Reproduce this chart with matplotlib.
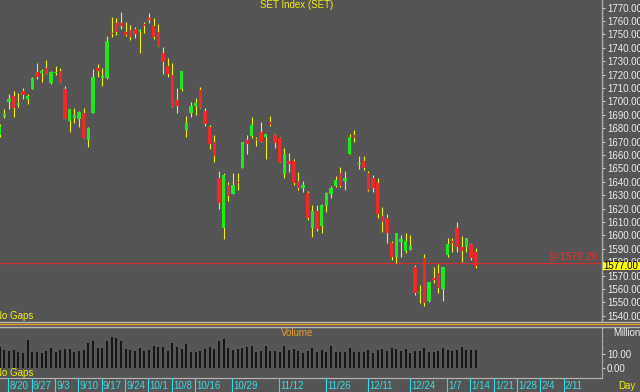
import matplotlib
matplotlib.use("Agg")
import numpy as np
import matplotlib.pyplot as plt
from matplotlib.lines import Line2D
from matplotlib.patches import Rectangle
from matplotlib.ticker import FormatStrFormatter, MultipleLocator

plt.rcParams['font.family'] = ['Liberation Sans', 'DejaVu Sans']

# daily SET index, 2018-08-16 .. 2019-01-16
opens = [1674.9, 1688.1, 1699.3, 1704.0, 1697.1, 1707.7, 1701.6, 1709.0, 1722.1, 1721.2,
         1724.7, 1713.5, 1720.9, 1722.7, 1709.0, 1685.6, 1687.8, 1686.9, 1691.6, 1671.2,
         1691.6, 1725.1, 1717.2, 1717.7, 1750.8, 1758.2, 1758.7, 1751.5, 1753.2, 1753.8,
         1752.3, 1757.9, 1762.4, 1756.4, 1752.0, 1735.9, 1726.4, 1719.7, 1701.0, 1709.0,
         1678.7, 1691.6, 1696.6, 1708.5, 1692.8, 1681.1, 1669.9, 1642.6, 1605.8, 1637.6,
         1630.9, 1639.7, 1650.5, 1671.2, 1674.4, 1671.9, 1676.9, 1673.7, 1684.8, 1674.9,
         1672.9, 1645.6, 1655.8, 1655.8, 1640.8, 1635.2, 1631.5, 1605.4, 1618.3, 1607.3,
         1622.0, 1630.7, 1636.9, 1646.8, 1640.8, 1660.8, 1674.9, 1653.3, 1655.8, 1646.8,
         1642.6, 1639.4, 1614.5, 1612.8, 1594.6, 1583.7, 1595.4, 1588.7, 1589.2, 1576.7,
         1557.3, 1583.4, 1551.4, 1568.1, 1572.2, 1559.9, 1585.4, 1595.4, 1605.8, 1591.2,
         1591.2, 1593.4, 1587.9]
highs = [1683.1, 1694.1, 1705.3, 1707.7, 1706.0, 1709.8, 1705.3, 1718.4, 1728.4, 1723.9,
         1730.9, 1722.7, 1726.4, 1724.7, 1711.5, 1694.5, 1694.8, 1692.8, 1695.3, 1681.1,
         1723.9, 1727.9, 1724.7, 1749.0, 1763.1, 1762.4, 1766.9, 1759.4, 1757.0, 1755.7,
         1753.8, 1759.4, 1765.7, 1762.0, 1757.7, 1740.8, 1732.6, 1728.4, 1709.8, 1722.7,
         1689.1, 1699.8, 1702.3, 1710.5, 1694.8, 1682.4, 1674.9, 1648.3, 1646.4, 1640.1,
         1646.4, 1646.8, 1669.9, 1674.9, 1688.6, 1673.7, 1684.8, 1675.7, 1689.1, 1675.4,
         1673.7, 1665.0, 1661.3, 1657.0, 1647.1, 1640.8, 1633.2, 1622.7, 1622.7, 1623.3,
         1632.6, 1637.1, 1644.6, 1650.8, 1648.3, 1675.5, 1678.7, 1659.3, 1659.5, 1648.3,
         1645.1, 1642.6, 1621.2, 1616.0, 1596.1, 1601.6, 1600.4, 1602.1, 1600.4, 1578.0,
         1563.1, 1586.2, 1565.6, 1576.3, 1578.7, 1576.8, 1597.9, 1597.9, 1610.3, 1599.6,
         1597.9, 1594.6, 1590.4]
lows = [1673.4, 1687.4, 1694.1, 1688.6, 1695.6, 1701.6, 1698.0, 1709.0, 1716.7, 1714.2,
        1720.4, 1713.0, 1719.7, 1714.2, 1686.6, 1676.9, 1684.1, 1681.1, 1672.5, 1666.2,
        1691.1, 1718.4, 1711.7, 1716.7, 1748.2, 1749.5, 1753.8, 1748.8, 1745.8, 1747.0,
        1735.9, 1751.2, 1758.7, 1746.3, 1741.5, 1720.4, 1718.4, 1696.0, 1691.1, 1708.0,
        1673.7, 1688.6, 1689.8, 1694.8, 1681.6, 1664.5, 1655.0, 1619.5, 1597.1, 1625.9,
        1630.9, 1633.9, 1650.1, 1660.5, 1672.5, 1666.9, 1669.5, 1657.0, 1681.6, 1665.0,
        1655.0, 1643.1, 1647.1, 1638.0, 1633.9, 1632.2, 1611.5, 1599.1, 1603.6, 1601.6,
        1617.7, 1627.7, 1636.4, 1635.9, 1633.9, 1660.5, 1669.5, 1649.6, 1648.8, 1633.2,
        1632.6, 1613.3, 1602.8, 1594.2, 1581.7, 1579.3, 1584.2, 1587.2, 1589.2, 1555.6,
        1549.9, 1547.4, 1550.6, 1564.3, 1557.3, 1551.4, 1583.7, 1587.9, 1587.9, 1580.5,
        1587.9, 1581.7, 1575.5]
closes = [1681.6, 1690.4, 1701.8, 1694.8, 1698.8, 1704.8, 1704.2, 1717.7, 1718.0, 1722.7,
          1720.4, 1721.9, 1721.9, 1714.2, 1686.6, 1694.5, 1689.8, 1691.9, 1672.5, 1679.9,
          1718.4, 1722.7, 1718.9, 1744.8, 1750.0, 1752.0, 1756.4, 1749.7, 1747.8, 1750.2,
          1753.2, 1756.4, 1760.7, 1747.8, 1741.5, 1729.6, 1720.4, 1696.0, 1696.8, 1722.7,
          1683.7, 1696.8, 1698.6, 1694.8, 1682.9, 1668.2, 1659.3, 1624.0, 1645.1, 1629.7,
          1637.6, 1638.9, 1669.9, 1668.0, 1682.4, 1671.0, 1669.5, 1675.7, 1682.4, 1668.7,
          1655.0, 1660.5, 1653.1, 1639.4, 1635.6, 1637.6, 1612.8, 1618.3, 1604.8, 1622.7,
          1631.5, 1635.2, 1641.4, 1636.9, 1642.6, 1673.2, 1672.5, 1654.3, 1650.1, 1633.9,
          1635.2, 1615.8, 1610.3, 1601.6, 1584.2, 1601.6, 1597.1, 1596.1, 1592.2, 1556.9,
          1558.1, 1549.4, 1565.1, 1566.8, 1560.6, 1576.3, 1593.6, 1594.6, 1591.2, 1588.7,
          1597.9, 1583.0, 1577.0]
volumes = [15.2, 13.2, 12.7, 13.4, 11.4, 11.2, 20.9, 11.4, 11.4, 10.7,
           12.7, 14.7, 11.4, 13.2, 13.9, 13.9, 11.4, 12.2, 13.2, 18.2,
           19.6, 14.7, 14.7, 19.6, 22.6, 21.9, 19.6, 13.9, 13.4, 12.2,
           14.7, 12.7, 13.4, 15.9, 15.2, 15.7, 12.2, 18.4, 15.2, 13.9,
           17.7, 11.4, 11.4, 12.7, 13.9, 15.7, 13.9, 19.6, 21.4, 14.7,
           13.4, 13.9, 14.4, 15.7, 16.4, 11.4, 12.7, 16.4, 12.7, 12.2,
           11.4, 16.4, 13.4, 13.9, 12.7, 10.7, 12.7, 14.7, 11.9, 13.4,
           11.4, 15.9, 11.4, 11.4, 11.4, 14.4, 11.9, 11.9, 11.4, 13.4,
           10.7, 13.4, 13.9, 12.7, 14.7, 13.9, 12.7, 13.9, 10.9, 12.7,
           12.7, 14.7, 11.4, 11.4, 12.2, 14.7, 13.2, 12.2, 13.2, 15.7,
           13.4, 13.4, 13.4]

date_labels = ["8/20", "8/27", "9/3", "9/10", "9/17", "9/24", "10/1", "10/8", "10/16", "10/29",
               "11/12", "11/26", "12/11", "12/24", "1/7", "1/14", "1/21", "1/28", "2/4", "2/11"]
date_index = [2, 7, 12, 17, 22, 27, 32, 37, 42, 50, 60, 70, 79, 88, 96, 101, 106, 111, 116, 121]

line_level = 1579.20
last_close = 1577.00

W, H = 640, 392
STEP = 4.667      # pixels per trading day
BG = '#555555'
YELLOW = '#eeee10'
CYAN = '#38d8e0'


def box(x0, y0, x1, y1):
    return [x0 / W, 1 - y1 / H, (x1 - x0) / W, (y1 - y0) / H]


def xi(px):
    return (px + 0.3) / STEP


o = np.array(opens)
c = np.array(closes)
idx = np.arange(len(c))
up = c >= o
body_low = np.minimum(o, c)
body_h = np.maximum(np.abs(c - o), 0.9)

fig = plt.figure(figsize=(6.4, 3.92), dpi=100, facecolor=BG)

# price panel
ax = fig.add_axes(box(0, 0, 602, 321), facecolor=BG)
ax.vlines(idx, lows, highs, color=YELLOW, lw=0.8, zorder=2)
ax.bar(idx[up], body_h[up], bottom=body_low[up], width=0.74, color='#22e622', zorder=3)
ax.bar(idx[~up], body_h[~up], bottom=body_low[~up], width=0.74, color='#f02828', zorder=3)
ax.axhline(line_level, color='#cc3030', lw=0.9, zorder=1)
ax.text(xi(598), line_level + 0.8, f"1={line_level:.2f}", color='#e83030', fontsize=7.5,
        ha='right', va='bottom')
ax.set_xlim(xi(0), xi(602))
ax.set_ylim(1536.2, 1775.6)
ax.set_xticks([])
ax.yaxis.tick_right()
ax.set_yticks(np.arange(1540, 1771, 10))
ax.yaxis.set_major_formatter(FormatStrFormatter('%.2f'))
ax.yaxis.set_minor_locator(MultipleLocator(2))
ax.tick_params(axis='y', which='major', colors='#c8c8c8', labelcolor='#ececec',
               labelsize=7, length=2, pad=1.5)
ax.tick_params(axis='y', which='minor', colors='#c8c8c8', length=1)
for s in ['top', 'left', 'bottom']:
    ax.spines[s].set_visible(False)
ax.spines['right'].set_color('#a8a8a8')
ax.spines['right'].set_linewidth(1.0)
ax.text(xi(297), 1775.6 - 4.7 / 1.341, "SET Index (SET)", color=YELLOW, fontsize=7,
        ha='center', va='center')
ax.text(xi(-5), 1775.6 - 316.5 / 1.341, "No Gaps", color=YELLOW, fontsize=7,
        ha='left', va='center')

# box with the last close on the price scale
fig.add_artist(Rectangle((602.5 / W, 1 - 269.5 / H), 37.5 / W, 8 / H,
                         transform=fig.transFigure, facecolor='#ffff00', edgecolor='none',
                         zorder=5))
fig.text(621 / W, 1 - 265.7 / H, f"{last_close:.2f}", color='black', fontsize=7,
         ha='center', va='center', zorder=6)

# separator between panels
for yy, col in [(322.2, '#b8b8b8'), (323.8, '#e89a28'), (326.5, '#b8b8b8')]:
    fig.add_artist(Line2D([0, 1], [1 - yy / H] * 2, transform=fig.transFigure,
                          color=col, lw=1.0))

# volume panel
vax = fig.add_axes(box(0, 327, 602, 378), facecolor=BG)
vax.bar(idx, volumes, width=0.45, color='#161616', zorder=2)
vax.set_xlim(xi(0), xi(602))
vax.set_ylim(-7.7, 30.4)
vax.set_xticks([])
vax.yaxis.tick_right()
vax.set_yticks([0, 10])
vax.yaxis.set_major_formatter(FormatStrFormatter('%.2f'))
vax.yaxis.set_minor_locator(MultipleLocator(5))
vax.tick_params(axis='y', which='major', colors='#c8c8c8', labelcolor='#ececec',
                labelsize=7, length=2, pad=1.5)
vax.tick_params(axis='y', which='minor', colors='#c8c8c8', length=1)
for s in ['top', 'left']:
    vax.spines[s].set_visible(False)
vax.spines['right'].set_color('#a8a8a8')
vax.spines['bottom'].set_color('#b4b4b4')
vax.text(xi(297), 30.4 - 6.3 / 1.34, "Volume", color='#e89a28', fontsize=7,
         ha='center', va='center')
vax.text(xi(-5), 30.4 - 46.3 / 1.34, "No Gaps", color=YELLOW, fontsize=7,
         ha='left', va='center')
fig.text(613 / W, 1 - 333 / H, "Million", color='#ececec', fontsize=7,
         ha='left', va='center')

# date strip
dax = fig.add_axes(box(0, 378, 640, 392), facecolor=BG)
dax.set_xlim(xi(0), xi(640))
dax.set_ylim(0, 1)
dax.axis('off')
for lab, i in zip(date_labels, date_index):
    dax.axvline(i - 0.15, color=CYAN, lw=0.8)
    dax.text(i + 0.1, 0.42, lab, color=CYAN, fontsize=7, ha='left', va='center')
fig.text(627 / W, 1 - 386 / H, "Day", color=YELLOW, fontsize=7, ha='center', va='center')

fig.savefig("out.png", dpi=100, facecolor=BG)
